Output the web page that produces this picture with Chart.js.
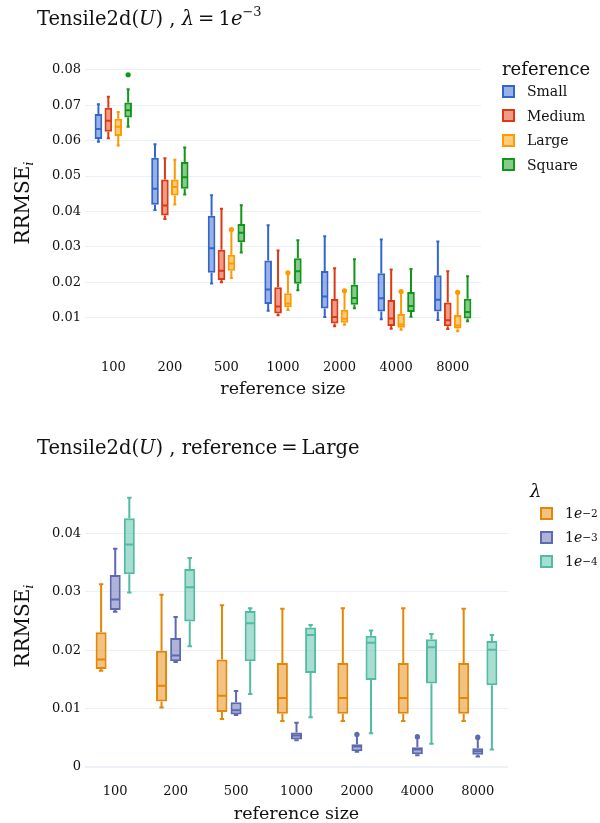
<!DOCTYPE html>
<html>
<head>
<meta charset="utf-8">
<script src="https://cdn.jsdelivr.net/npm/chart.js@4.4.1/dist/chart.umd.min.js"></script>
<style>
  html,body{margin:0;padding:0;background:#fff;}
  body{width:600px;height:823px;position:relative;overflow:hidden;font-family:'DejaVu Serif',serif;color:#111;}
  .abs{position:absolute;}
  .title{font-size:19.5px;white-space:nowrap;}
  .title sup{font-size:13px;vertical-align:9px;line-height:0;}
  .title .eq{margin:0 4px;}
  .ytitle{font-size:20px;white-space:nowrap;transform:translate(-50%,-50%) rotate(-90deg);}
  .ytitle sub{font-size:13px;font-style:italic;vertical-align:-4px;line-height:0;}
  .legtitle{font-size:18px;white-space:nowrap;}
  .legitem{font-size:14px;white-space:nowrap;display:flex;align-items:center;height:20px;}
  .legitem .sw{width:9px;height:9px;border:2px solid;margin-right:12px;}
  .legitem sup{font-size:10.5px;vertical-align:6px;line-height:0;}
  canvas{position:absolute;left:0;}
</style>
</head>
<body>
<canvas id="c1" width="600" height="415" style="top:0px"></canvas>
<canvas id="c2" width="600" height="410" style="top:413px"></canvas>

<div class="abs title" style="left:37px;top:7px;">Tensile2d(<i>U</i>) , <i>λ</i><span class="eq">=</span>1<i>e</i><sup>−3</sup></div>
<div class="abs title" style="left:37px;top:436px;">Tensile2d(<i>U</i>) , reference<span class="eq">=</span>Large</div>

<div class="abs ytitle" style="left:22px;top:203px;">RRMSE<sub>i</sub></div>
<div class="abs ytitle" style="left:22px;top:626px;">RRMSE<sub>i</sub></div>

<div class="abs" id="leg1" style="left:502px;top:58px;"></div>
<div class="abs" id="leg2" style="left:530px;top:480px;"></div>

<script>
// ---------- DATA ----------
const categories = ['100', '200', '500', '1000', '2000', '4000', '8000'];

// Top chart (lambda = 1e-3): per category [whiskerLow, q1, median, q3, whiskerHigh]
const small = [
  [0.0597, 0.0605, 0.0633, 0.0675, 0.0703],
  [0.0404, 0.0419, 0.0464, 0.0552, 0.0590],
  [0.0197, 0.0227, 0.0296, 0.0388, 0.0446],
  [0.0120, 0.0139, 0.0180, 0.0262, 0.0361],
  [0.0102, 0.0126, 0.0160, 0.0232, 0.0330],
  [0.0096, 0.0118, 0.0155, 0.0226, 0.0321],
  [0.0094, 0.0118, 0.0151, 0.0220, 0.0315]
];
const medium = [
  [0.0607, 0.0625, 0.0656, 0.0693, 0.0724],
  [0.0379, 0.0389, 0.0417, 0.0490, 0.0550],
  [0.0200, 0.0207, 0.0233, 0.0292, 0.0408],
  [0.0107, 0.0112, 0.0132, 0.0186, 0.0290],
  [0.0076, 0.0084, 0.0102, 0.0153, 0.0240],
  [0.0069, 0.0077, 0.0098, 0.0150, 0.0236],
  [0.0068, 0.0076, 0.0093, 0.0143, 0.0231]
];
const large = [
  [0.0586, 0.0613, 0.0639, 0.0662, 0.0681],
  [0.0420, 0.0445, 0.0469, 0.0490, 0.0546],
  [0.0212, 0.0233, 0.0253, 0.0278, 0.0347],
  [0.0122, 0.0130, 0.0140, 0.0169, 0.0225],
  [0.0080, 0.0086, 0.0097, 0.0123, 0.0174],
  [0.0066, 0.0072, 0.0081, 0.0111, 0.0172],
  [0.0062, 0.0070, 0.0078, 0.0108, 0.0170]
];
const square = [
  [0.0639, 0.0665, 0.0686, 0.0708, 0.0745],
  [0.0448, 0.0464, 0.0497, 0.0540, 0.0581],
  [0.0284, 0.0313, 0.0340, 0.0365, 0.0418],
  [0.0178, 0.0196, 0.0231, 0.0268, 0.0319],
  [0.0127, 0.0137, 0.0156, 0.0193, 0.0265],
  [0.0103, 0.0116, 0.0133, 0.0173, 0.0238],
  [0.0090, 0.0098, 0.0116, 0.0154, 0.0217]
];
const smallOut  = [[], [], [], [], [], [], []];
const mediumOut = [[], [], [], [], [], [], []];
const largeOut  = [[], [], [0.0349], [0.0227], [0.0176], [0.0174], [0.0172]];
const squareOut = [[0.0786], [], [], [], [], [], []];

// Bottom chart (reference = Large)
const lam2 = [
  [0.0165, 0.0168, 0.0184, 0.0231, 0.0313],
  [0.0102, 0.0112, 0.0139, 0.0199, 0.0295],
  [0.0082, 0.0094, 0.0122, 0.0184, 0.0277],
  [0.0079, 0.0091, 0.0118, 0.0178, 0.0271],
  [0.0079, 0.0091, 0.0118, 0.0178, 0.0272],
  [0.0079, 0.0091, 0.0118, 0.0178, 0.0272],
  [0.0079, 0.0091, 0.0118, 0.0178, 0.0271]
];
const lam3 = [
  [0.0266, 0.0269, 0.0287, 0.0329, 0.0374],
  [0.0180, 0.0181, 0.0191, 0.0221, 0.0257],
  [0.0089, 0.0090, 0.0097, 0.0111, 0.0130],
  [0.0046, 0.0047, 0.0054, 0.0059, 0.0076],
  [0.0026, 0.0027, 0.0035, 0.0039, 0.0054],
  [0.0020, 0.0022, 0.0030, 0.0034, 0.0050],
  [0.0018, 0.0021, 0.0027, 0.0032, 0.0049]
];
const lam4 = [
  [0.0299, 0.0330, 0.0381, 0.0426, 0.0461],
  [0.0207, 0.0249, 0.0308, 0.0339, 0.0358],
  [0.0125, 0.0181, 0.0246, 0.0267, 0.0272],
  [0.0085, 0.0161, 0.0226, 0.0239, 0.0243],
  [0.0058, 0.0149, 0.0213, 0.0225, 0.0234],
  [0.0040, 0.0143, 0.0205, 0.0219, 0.0228],
  [0.0030, 0.0140, 0.0201, 0.0216, 0.0226]
];
const lam2Out = [[], [], [], [], [], [], []];
const lam3Out = [[], [], [], [], [0.0056], [0.0052], [0.0051]];
const lam4Out = [[], [], [], [], [], [], []];

const topTicks = [0.01, 0.02, 0.03, 0.04, 0.05, 0.06, 0.07, 0.08];
const bottomTicks = [0, 0.01, 0.02, 0.03, 0.04];

// ---------- STYLE ----------
const FONT = "'DejaVu Serif', serif";
const topColors = [[51,102,204],[220,57,18],[255,153,0],[16,150,24]];
const botColors = [[229,134,6],[93,105,177],[82,188,163]];
const rgba = (c,a) => `rgba(${c[0]},${c[1]},${c[2]},${a})`;

function makeDatasets(names, stats, outs, colors){
  return names.map((n,i)=>({
    label: n,
    data: stats[i].map(s=>[s[1], s[3]]),
    stats: stats[i],
    outliers: outs[i],
    backgroundColor: rgba(colors[i],0.5),
    borderColor: rgba(colors[i],1),
    borderWidth: 2,
    borderSkipped: false
  }));
}

const boxPlugin = {
  id: 'boxWhiskers',
  afterDatasetsDraw(chart){
    const ctx = chart.ctx, ys = chart.scales.y;
    ctx.save();
    chart.data.datasets.forEach((ds,i)=>{
      const meta = chart.getDatasetMeta(i);
      meta.data.forEach((el,j)=>{
        const [lo,q1,med,q3,hi] = ds.stats[j];
        const x = el.x, w = el.width;
        const p = v => ys.getPixelForValue(v);
        ctx.strokeStyle = ds.borderColor;
        ctx.lineWidth = 2;
        ctx.beginPath();
        ctx.moveTo(x, p(q3)); ctx.lineTo(x, p(hi));
        ctx.moveTo(x, p(q1)); ctx.lineTo(x, p(lo));
        ctx.moveTo(x - w*0.2, p(hi)); ctx.lineTo(x + w*0.2, p(hi));
        ctx.moveTo(x - w*0.2, p(lo)); ctx.lineTo(x + w*0.2, p(lo));
        ctx.moveTo(x - w/2 + 1, p(med)); ctx.lineTo(x + w/2 - 1, p(med));
        ctx.stroke();
        ctx.fillStyle = ds.borderColor;
        (ds.outliers[j]||[]).forEach(v=>{
          ctx.beginPath(); ctx.arc(x, p(v), 2.6, 0, Math.PI*2); ctx.fill();
        });
      });
    });
    ctx.restore();
  }
};

function makeChart(id, datasets, cfg){
  return new Chart(document.getElementById(id), {
    type: 'bar',
    data: { labels: categories, datasets },
    options: {
      responsive: false, animation: false, devicePixelRatio: 1,
      layout: { padding: { left: 0, right: cfg.right, top: cfg.top, bottom: 0 } },
      plugins: { legend: { display: false }, tooltip: { enabled: false } },
      datasets: { bar: { categoryPercentage: cfg.cat, barPercentage: cfg.bar } },
      scales: {
        x: {
          grid: { display: false }, border: { display: false },
          ticks: { color: '#111', font: { family: FONT, size: 13 }, padding: cfg.xpad },
          title: { display: true, text: 'reference size', color: '#111',
                   font: { family: FONT, size: 17.5, lineHeight: 1 }, padding: { top: 0, bottom: cfg.tpad } },
          afterFit: s => { s.height = cfg.xh; }
        },
        y: {
          min: cfg.min, max: cfg.max,
          afterBuildTicks: s => { s.ticks = cfg.ticks.map(v=>({value:v})); },
          ticks: { color: '#111', font: { family: FONT, size: 13 }, padding: 4,
                   callback: v => v === 0 ? '0' : Number(v).toFixed(2) },
          grid: { drawTicks: false,
                  color: c => '#ebf0f8',
                  lineWidth: c => (c.tick && c.tick.value === 0) ? 2 : 1 },
          border: { display: false },
          afterFit: s => { s.width = 85; }
        }
      }
    },
    plugins: [boxPlugin]
  });
}

makeChart('c1',
  makeDatasets(['Small','Medium','Large','Square'], [small,medium,large,square],
               [smallOut,mediumOut,largeOut,squareOut], topColors),
  { right: 119, top: 62, xh: 71, xpad: 8, tpad: 17, min: 0.0026, max: 0.0822,
    ticks: topTicks, cat: 0.7, bar: 0.77 });

makeChart('c2',
  makeDatasets(['1e-2','1e-3','1e-4'], [lam2,lam3,lam4], [lam2Out,lam3Out,lam4Out], botColors),
  { right: 92, top: 72, xh: 56, xpad: 9, tpad: 0, min: 0, max: 0.0483,
    ticks: bottomTicks, cat: 0.7, bar: 0.78 });

// ---------- LEGENDS (HTML text) ----------
function legend(el, title, names, colors, rowH){
  let h = `<div class="legtitle">${title}</div>`;
  names.forEach((n,i)=>{
    h += `<div class="legitem" style="height:${rowH}px"><div class="sw" style="border-color:${rgba(colors[i],1)};background:${rgba(colors[i],0.5)}"></div>${n}</div>`;
  });
  document.getElementById(el).innerHTML = h;
}
legend('leg1', 'reference', ['Small','Medium','Large','Square'], topColors, 24.5);
legend('leg2', '<i>λ</i>', ['1<i>e</i><sup>−2</sup>','1<i>e</i><sup>−3</sup>','1<i>e</i><sup>−4</sup>'], botColors, 24);
document.getElementById('leg2').querySelectorAll('.legitem').forEach(d=>d.style.marginLeft='10px');
</script>
</body>
</html>
